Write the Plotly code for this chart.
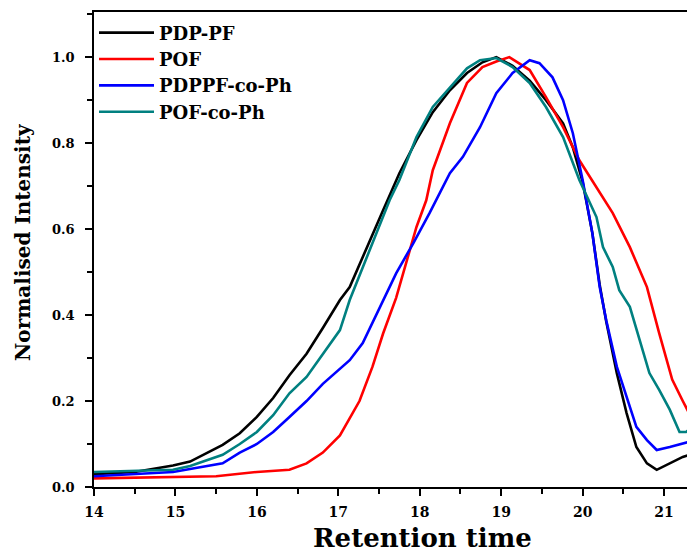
import plotly.graph_objects as go

# Retention time samples and normalised intensities
x_black = [14.0, 14.5, 14.97, 15.18, 15.58, 15.79, 16.0, 16.2, 16.4, 16.61, 16.81, 17.02, 17.14, 17.35, 17.55, 17.75,
           17.96, 18.16, 18.37, 18.58, 18.77, 18.94, 19.14, 19.35, 19.55, 19.76, 19.88, 20.0, 20.12, 20.21, 20.29,
           20.42, 20.54, 20.66, 20.79, 20.91, 21.07, 21.23, 21.38]
y_black = [0.03, 0.035, 0.05, 0.059, 0.098, 0.125, 0.163, 0.207, 0.26, 0.31, 0.37, 0.435, 0.465, 0.558, 0.644, 0.73,
           0.807, 0.872, 0.923, 0.963, 0.988, 1.0, 0.98, 0.945, 0.9, 0.846, 0.79, 0.71, 0.59, 0.47, 0.385,
           0.265, 0.172, 0.093, 0.055, 0.04, 0.055, 0.07, 0.078]

x_red = [14.0, 14.5, 15.0, 15.5, 16.0, 16.4, 16.61, 16.81, 17.02, 17.26, 17.42, 17.55, 17.71, 17.84, 17.96, 18.08,
         18.16, 18.37, 18.58, 18.77, 18.94, 19.1, 19.35, 19.55, 19.76, 19.96, 20.17, 20.37, 20.58, 20.79, 20.94,
         21.1, 21.23, 21.38]
y_red = [0.02, 0.022, 0.023, 0.025, 0.035, 0.04, 0.055, 0.08, 0.12, 0.2, 0.28, 0.357, 0.44, 0.528, 0.605, 0.667,
         0.737, 0.846, 0.94, 0.977, 0.99, 1.0, 0.97, 0.907, 0.837, 0.76, 0.698, 0.637, 0.558, 0.465, 0.358,
         0.25, 0.2, 0.145]

x_blue = [14.0, 14.5, 14.97, 15.58, 15.79, 16.0, 16.2, 16.4, 16.61, 16.81, 17.02, 17.14, 17.3, 17.51, 17.71, 17.92,
          18.12, 18.37, 18.53, 18.74, 18.94, 19.14, 19.35, 19.47, 19.63, 19.76, 19.88, 20.0, 20.12, 20.21, 20.29,
          20.42, 20.54, 20.66, 20.79, 20.91, 21.07, 21.23, 21.38]
y_blue = [0.025, 0.03, 0.035, 0.055, 0.08, 0.1, 0.128, 0.163, 0.2, 0.24, 0.276, 0.295, 0.335, 0.419, 0.497, 0.567,
          0.637, 0.73, 0.768, 0.837, 0.916, 0.963, 0.993, 0.986, 0.953, 0.9, 0.823, 0.714, 0.59, 0.465, 0.388,
          0.28, 0.21, 0.14, 0.109, 0.086, 0.093, 0.102, 0.109]

x_teal = [14.0, 14.5, 14.97, 15.18, 15.58, 15.79, 16.0, 16.2, 16.4, 16.61, 16.81, 17.02, 17.14, 17.3, 17.51, 17.63,
          17.75, 17.96, 18.16, 18.37, 18.58, 18.74, 18.94, 19.14, 19.35, 19.55, 19.76, 19.96, 20.17, 20.25, 20.37,
          20.45, 20.58, 20.7, 20.82, 20.94, 21.07, 21.19, 21.27, 21.38]
y_teal = [0.035, 0.038, 0.04, 0.049, 0.075, 0.1, 0.128, 0.167, 0.218, 0.256, 0.31, 0.365, 0.435, 0.512, 0.614, 0.667,
          0.714, 0.814, 0.884, 0.93, 0.974, 0.993, 0.998, 0.977, 0.94, 0.884, 0.814, 0.714, 0.628, 0.558, 0.512,
          0.458, 0.419, 0.342, 0.265, 0.226, 0.18, 0.128, 0.128, 0.145]

names = ["PDP-PF", "POF", "PDPPF-co-Ph", "POF-co-Ph"]
colors = ["#000000", "#ff0000", "#0000ff", "#008080"]
x_ticks = [14, 15, 16, 17, 18, 19, 20, 21]
y_ticks = [0.0, 0.2, 0.4, 0.6, 0.8, 1.0]
x_title = "Retention time"
y_title = "Normalised Intensity"

FONT = "DejaVu Serif"

fig = go.Figure()
for xs, ys, n, c in zip([x_black, x_red, x_blue, x_teal], [y_black, y_red, y_blue, y_teal], names, colors):
    fig.add_trace(go.Scatter(x=xs, y=ys, mode="lines", name=n, line=dict(color=c, width=2.6)))

fig.update_layout(
    width=687, height=548,
    margin=dict(l=86, r=0, t=4, b=69, autoexpand=False),
    plot_bgcolor="white", paper_bgcolor="white",
    font=dict(family=FONT, color="black"),
    showlegend=True,
    legend=dict(x=0.0, y=0.995, xanchor="left", yanchor="top", bgcolor="rgba(0,0,0,0)", itemwidth=55,
                font=dict(family=FONT, size=18, color="black", weight="bold"), tracegroupgap=0),
    annotations=[
        dict(text=x_title, xref="paper", yref="paper", x=0.546, y=-0.107, xanchor="center", yanchor="middle",
             showarrow=False, font=dict(family=FONT, size=26, weight="bold", color="black")),
        dict(text=y_title, xref="paper", yref="paper", x=-0.118, y=0.516, xanchor="center", yanchor="middle",
             textangle=-90, showarrow=False, font=dict(family=FONT, size=20, weight="bold", color="black")),
    ],
)
fig.update_xaxes(
    range=[14, 21.38], tickvals=x_ticks, ticktext=[str(v) for v in x_ticks],
    showgrid=False, zeroline=False, showline=True, linecolor="black", linewidth=1.5, mirror=True,
    ticks="outside", ticklen=7, tickwidth=1.5, tickcolor="black", ticklabelstandoff=4,
    minor=dict(dtick=0.5, tick0=14, ticks="outside", ticklen=5, tickwidth=1.5, tickcolor="black"),
    tickfont=dict(family=FONT, size=14, weight="bold"),
)
fig.update_yaxes(
    range=[0, 1.105], tickvals=y_ticks, ticktext=["%.1f" % v for v in y_ticks],
    showgrid=False, zeroline=False, showline=True, linecolor="black", linewidth=1.5, mirror=False,
    ticks="outside", ticklen=7, tickwidth=1.5, tickcolor="black", ticklabelstandoff=8,
    minor=dict(dtick=0.1, tick0=0, ticks="outside", ticklen=5, tickwidth=1.5, tickcolor="black"),
    tickfont=dict(family=FONT, size=13, weight="bold"),
)

fig.write_html("out.html")
